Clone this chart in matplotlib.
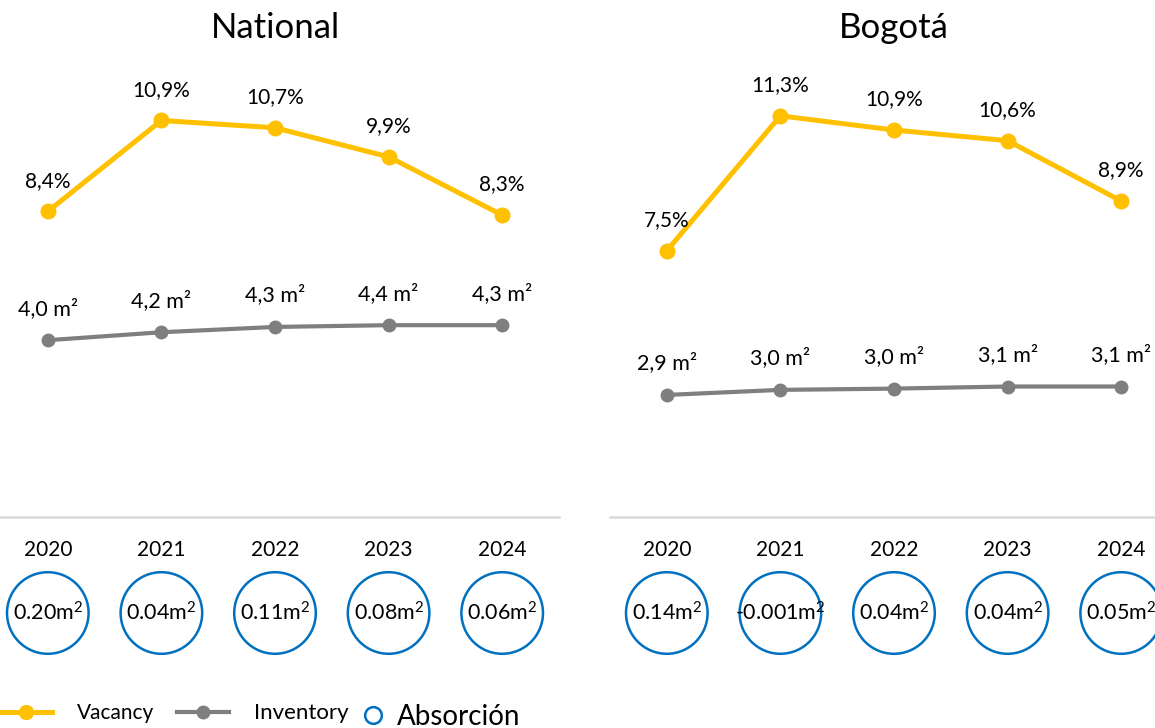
import matplotlib
matplotlib.use('Agg')
import matplotlib.pyplot as plt
import numpy as np
from matplotlib.lines import Line2D

plt.rcParams['font.family'] = ['Lato', 'DejaVu Sans']
plt.rcParams['mathtext.fontset'] = 'custom'
plt.rcParams['mathtext.rm'] = 'Lato'
plt.rcParams['mathtext.default'] = 'rm'

# --- Data ---
years = ['2020', '2021', '2022', '2023', '2024']

nat_vacancy = [8.4, 10.9, 10.7, 9.9, 8.3]
nat_inventory = [4.0, 4.18, 4.30, 4.34, 4.34]
nat_inventory_labels = ['4,0 m²', '4,2 m²', '4,3 m²', '4,4 m²', '4,3 m²']
nat_absorption_labels = ['0.20m²', '0.04m²', '0.11m²', '0.08m²', '0.06m²']

bog_vacancy = [7.5, 11.3, 10.9, 10.6, 8.9]
bog_inventory = [2.9, 3.02, 3.05, 3.1, 3.1]
bog_inventory_labels = ['2,9 m²', '3,0 m²', '3,0 m²', '3,1 m²', '3,1 m²']
bog_absorption_labels = ['0.14m²', '-0.001m²', '0.04m²', '0.04m²', '0.05m²']

YELLOW = '#FFC000'
GRAY = '#7F7F7F'
BLUE = '#0070C0'

W, H = 1155, 728
fig = plt.figure(figsize=(W / 100, H / 100), dpi=100)


def px(x0, y0, x1, y1):
    """pixel box -> figure rect"""
    return [x0 / W, 1 - y1 / H, (x1 - x0) / W, (y1 - y0) / H]


def panel(x0, title, vac, inv, inv_labels, abs_labels, vmax, imax):
    x = np.arange(len(years))
    ax = fig.add_axes(px(x0, 75, x0 + 568, 517))
    ax2 = ax.twinx()
    ax.set_xlim(-0.5, 4.5)
    ax.set_ylim(0, vmax)
    ax2.set_ylim(0, imax)
    for a in (ax, ax2):
        for s in a.spines.values():
            s.set_visible(False)
        a.set_xticks([])
        a.set_yticks([])
        a.patch.set_visible(False)
    ax.spines['bottom'].set_visible(True)
    ax.spines['bottom'].set_color('#D9D9D9')
    ax.spines['bottom'].set_linewidth(1.8)

    ax.plot(x, vac, color=YELLOW, lw=3.6, marker='o', ms=10.5, clip_on=False)
    ax2.plot(x, inv, color=GRAY, lw=3.0, marker='o', ms=9, clip_on=False)
    for xi, v in zip(x, vac):
        ax.annotate(f'{v:.1f}%'.replace('.', ','), (xi, v), xytext=(0, 22),
                    textcoords='offset points', ha='center', va='center',
                    fontsize=15, annotation_clip=False)
    for xi, v, lab in zip(x, inv, inv_labels):
        ax2.annotate(lab, (xi, v), xytext=(0, 23),
                     textcoords='offset points', ha='center', va='center',
                     fontsize=15.5, annotation_clip=False)
    ax.set_title(title, fontsize=25, pad=27)

    # absorption circles
    axc = fig.add_axes(px(x0, 572, x0 + 568, 654))
    axc.set_xlim(-0.5, 4.5)
    axc.set_ylim(-1, 1)
    axc.scatter(x, np.zeros(len(x)), s=3450, facecolors='none',
                edgecolors=BLUE, linewidths=1.8, clip_on=False)
    for xi, lab in zip(x, abs_labels):
        num = lab.replace('m²', '')
        axc.text(xi, 0, num + r'm$^{2}$', ha='center', va='center', fontsize=15.5)
    axc.xaxis.tick_top()
    axc.set_xticks(x)
    axc.set_xticklabels(years, fontsize=15)
    axc.tick_params(axis='x', length=0, pad=9)
    axc.set_yticks([])
    for s in axc.spines.values():
        s.set_visible(False)
    axc.patch.set_visible(False)


panel(-9, 'National', nat_vacancy, nat_inventory, nat_inventory_labels,
      nat_absorption_labels, 12.15, 10.0)
panel(610, 'Bogotá', bog_vacancy, bog_inventory, bog_inventory_labels,
      bog_absorption_labels, 12.45, 10.5)

# legend
h1 = [Line2D([], [], color=YELLOW, lw=3.6, marker='o', ms=10),
      Line2D([], [], color=GRAY, lw=3.0, marker='o', ms=9)]
leg1 = fig.legend(h1, ['Vacancy', 'Inventory'], loc='center left',
                  bbox_to_anchor=(0, 1 - 713 / H), ncol=2, frameon=False,
                  fontsize=15, handlelength=2.5, handletextpad=1.2,
                  columnspacing=1.1, borderpad=0, borderaxespad=0)
leg1.get_texts()[1].set_fontsize(16)
h2 = [Line2D([], [], ls='none', marker='o', ms=12, mfc='none', mec=BLUE, mew=1.8)]
fig.legend(h2, ['Absorción'], loc='center left',
           bbox_to_anchor=(361 / W, 1 - 717 / H), frameon=False,
           fontsize=20, handlelength=0.9, handletextpad=0.4,
           borderpad=0, borderaxespad=0)

fig.savefig('out.png', dpi=100)
